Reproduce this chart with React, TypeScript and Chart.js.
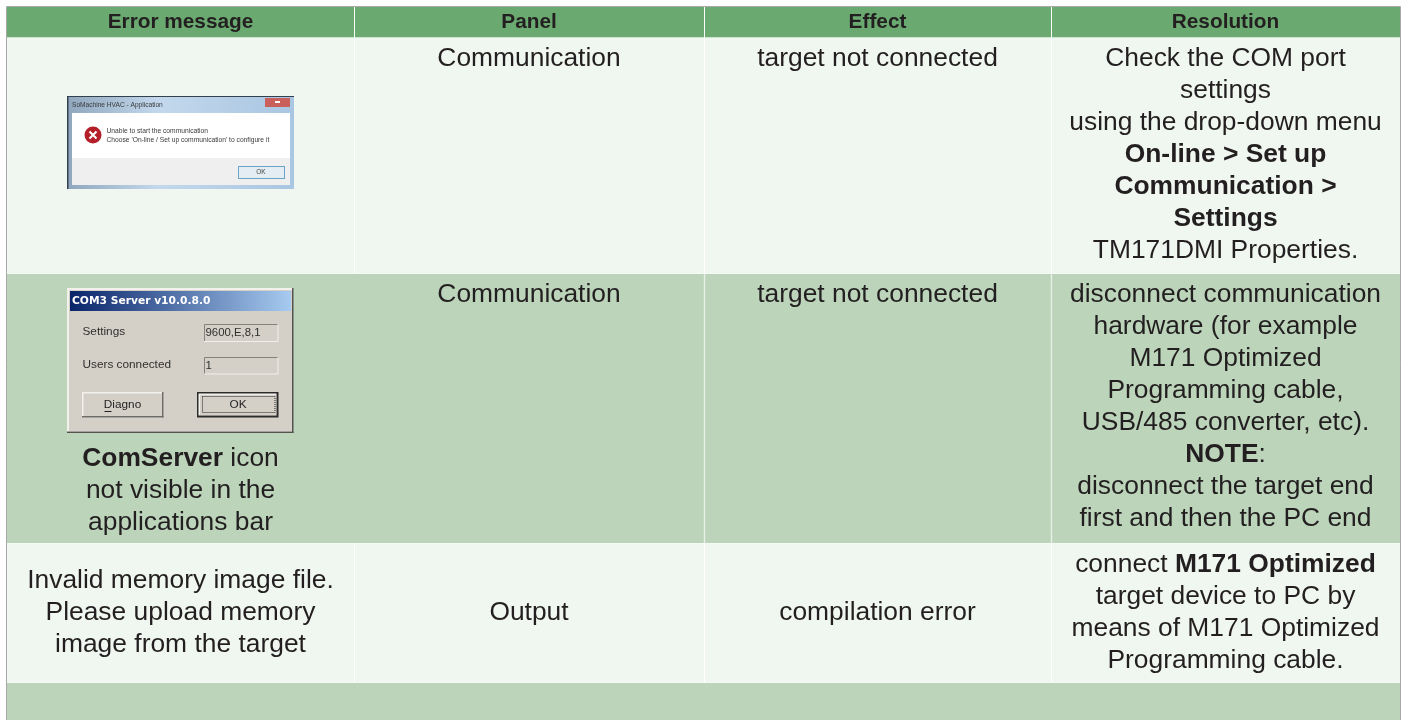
import React, { useEffect, useRef } from "react";
import { Chart, registerables } from "chart.js";

Chart.register(...registerables);

type Seg = [string, boolean];
type Line = Seg[];

const headers = ["Error message", "Panel", "Effect", "Resolution"];
const panels = ["Communication", "Communication", "Output"];
const effects = ["target not connected", "target not connected", "compilation error"];
const errorTexts: Line[][] = [
  [],
  [
    [["ComServer", true], [" icon", false]],
    [["not visible in the", false]],
    [["applications bar", false]],
  ],
  [
    [["Invalid memory image file.", false]],
    [["Please upload memory", false]],
    [["image from the target", false]],
  ],
];
const resolutions: Line[][] = [
  [
    [["Check the COM port", false]],
    [["settings", false]],
    [["using the drop-down menu", false]],
    [["On-line > Set up", true]],
    [["Communication >", true]],
    [["Settings", true]],
    [["TM171DMI Properties.", false]],
  ],
  [
    [["disconnect communication", false]],
    [["hardware (for example", false]],
    [["M171 Optimized", false]],
    [["Programming cable,", false]],
    [["USB/485 converter, etc).", false]],
    [["NOTE", true], [":", false]],
    [["disconnect the target end", false]],
    [["first and then the PC end", false]],
  ],
  [
    [["connect ", false], ["M171 Optimized", true]],
    [["target device to PC by", false]],
    [["means of M171 Optimized", false]],
    [["Programming cable.", false]],
  ],
];

const columnEdges = [7, 354, 704, 1051, 1400];
const rowEdges = [7, 37, 273, 543, 682, 720];
const rowColors = ["#6aaa70", "#f0f7f1", "#bbd4ba", "#f0f7f1", "#bbd4ba"];
const FONT = '"Liberation Sans", Arial, sans-serif';
const INK = "#231f20";
const BODY = 26.4;
const HEAD = 20.8;

function drawLine(ctx: CanvasRenderingContext2D, line: Line, cx: number, y: number, size: number) {
  let total = 0;
  for (const [t, b] of line) {
    ctx.font = `${b ? "bold " : ""}${size}px ${FONT}`;
    total += ctx.measureText(t).width;
  }
  let x = cx - total / 2;
  ctx.textAlign = "left";
  ctx.textBaseline = "middle";
  ctx.fillStyle = INK;
  for (const [t, b] of line) {
    ctx.font = `${b ? "bold " : ""}${size}px ${FONT}`;
    ctx.fillText(t, x, y);
    x += ctx.measureText(t).width;
  }
}

function drawDialogOne(ctx: CanvasRenderingContext2D) {
  ctx.save();
  ctx.filter = "blur(0.6px)";
  const tg = ctx.createLinearGradient(67, 96, 294, 96);
  tg.addColorStop(0, "#8fa6bd");
  tg.addColorStop(0.4, "#c3d8ec");
  tg.addColorStop(1, "#a9c6e2");
  ctx.fillStyle = tg;
  ctx.fillRect(67, 96, 227, 93);
  ctx.fillStyle = "#33414f";
  ctx.fillRect(67, 96, 227, 1);
  ctx.fillRect(67, 96, 1.5, 93);
  ctx.fillStyle = "#ffffff";
  ctx.fillRect(72, 113, 218, 46);
  ctx.fillStyle = "#efefef";
  ctx.fillRect(72, 158, 218, 27);
  ctx.fillStyle = "#c9605c";
  ctx.fillRect(265, 98, 25, 9);
  ctx.fillStyle = "#ffffff";
  ctx.fillRect(275, 101, 5, 2);
  // error icon
  ctx.fillStyle = "#b4202a";
  ctx.beginPath();
  ctx.arc(93, 135, 8.5, 0, Math.PI * 2);
  ctx.fill();
  ctx.strokeStyle = "#ffffff";
  ctx.lineWidth = 2;
  ctx.beginPath();
  ctx.moveTo(89.5, 131.5);
  ctx.lineTo(96.5, 138.5);
  ctx.moveTo(96.5, 131.5);
  ctx.lineTo(89.5, 138.5);
  ctx.stroke();
  // text
  ctx.fillStyle = "#3a3a3a";
  ctx.textAlign = "left";
  ctx.textBaseline = "middle";
  ctx.font = `6.6px ${FONT}`;
  ctx.fillText("SoMachine HVAC - Application", 72, 105);
  ctx.font = `6.7px ${FONT}`;
  ctx.fillText("Unable to start the communication", 106.5, 131);
  ctx.fillText("Choose 'On-line / Set up communication' to configure it", 106.5, 140);
  // OK button
  ctx.fillStyle = "#e4edf3";
  ctx.strokeStyle = "#6aa5c8";
  ctx.lineWidth = 1;
  ctx.fillRect(238, 166, 46, 12);
  ctx.strokeRect(238.5, 166.5, 46, 12);
  ctx.fillStyle = "#444444";
  ctx.textAlign = "center";
  ctx.font = `6.5px ${FONT}`;
  ctx.fillText("OK", 261, 172.5);
  ctx.restore();
}

function field(ctx: CanvasRenderingContext2D, x: number, y: number, w: number, h: number) {
  ctx.fillStyle = "#d4d0c8";
  ctx.fillRect(x, y, w, h);
  ctx.strokeStyle = "#85827b";
  ctx.lineWidth = 1;
  ctx.beginPath();
  ctx.moveTo(x + 0.5, y + h);
  ctx.lineTo(x + 0.5, y + 0.5);
  ctx.lineTo(x + w, y + 0.5);
  ctx.stroke();
  ctx.strokeStyle = "#f2f0ec";
  ctx.beginPath();
  ctx.moveTo(x + w - 0.5, y);
  ctx.lineTo(x + w - 0.5, y + h - 0.5);
  ctx.lineTo(x, y + h - 0.5);
  ctx.stroke();
}

function drawDialogTwo(ctx: CanvasRenderingContext2D) {
  ctx.save();
  ctx.fillStyle = "#f3f1ec";
  ctx.fillRect(67, 288, 226, 145);
  ctx.fillStyle = "#55534f";
  ctx.fillRect(292, 288, 1.5, 145);
  ctx.fillRect(67, 431.5, 226.5, 1.5);
  ctx.fillStyle = "#d4d0c8";
  ctx.fillRect(69, 290, 223, 141);
  const g = ctx.createLinearGradient(70, 0, 291, 0);
  g.addColorStop(0, "#0a246a");
  g.addColorStop(1, "#a6caf0");
  ctx.fillStyle = g;
  ctx.fillRect(70, 291, 221, 20);
  ctx.textAlign = "left";
  ctx.textBaseline = "middle";
  ctx.fillStyle = "#ffffff";
  ctx.font = `bold 10.7px "DejaVu Sans", sans-serif`;
  ctx.fillText("COM3 Server v10.0.8.0", 72, 301.5);
  field(ctx, 204, 324, 74.5, 18);
  field(ctx, 204, 357, 74.5, 17.5);
  ctx.fillStyle = "#2f2f2c";
  ctx.font = `11.8px ${FONT}`;
  ctx.fillText("Settings", 82.5, 332);
  ctx.fillText("Users connected", 82.5, 365);
  ctx.font = `11.4px ${FONT}`;
  ctx.fillText("9600,E,8,1", 205.5, 333);
  ctx.fillText("1", 205.5, 366);
  // Diagno
  ctx.fillStyle = "#f3f1ec";
  ctx.fillRect(82, 392, 81.5, 25.5);
  ctx.fillStyle = "#6d6b66";
  ctx.fillRect(162, 392, 1.5, 25.5);
  ctx.fillRect(82, 416, 81.5, 1.5);
  ctx.fillStyle = "#d4d0c8";
  ctx.fillRect(83.5, 393.5, 78.5, 22.5);
  ctx.fillStyle = "#1f1f1f";
  ctx.textAlign = "center";
  ctx.font = `11.8px ${FONT}`;
  ctx.fillText("Diagno", 122.5, 404.5);
  ctx.fillRect(104.5, 411, 7, 1);
  // OK
  ctx.fillStyle = "#2b2b2b";
  ctx.fillRect(197, 392, 81.5, 25.5);
  ctx.fillStyle = "#f3f1ec";
  ctx.fillRect(198.5, 393.5, 78, 22);
  ctx.fillStyle = "#d4d0c8";
  ctx.fillRect(200, 395, 76, 20);
  ctx.strokeStyle = "#222222";
  ctx.lineWidth = 1;
  ctx.setLineDash([1, 1]);
  ctx.strokeRect(202.5, 396.5, 72.5, 16);
  ctx.setLineDash([]);
  ctx.fillStyle = "#1f1f1f";
  ctx.fillText("OK", 238, 404.5);
  ctx.restore();
}

const tablePlugin = {
  id: "tableText",
  afterDatasetsDraw(chart: any) {
    const ctx: CanvasRenderingContext2D = chart.ctx;
    const xs = chart.scales.x;
    const ys = chart.scales.y;
    const px = (v: number) => xs.getPixelForValue(v);
    const py = (v: number) => ys.getPixelForValue(v);
    const mid = (c: number) => (px(columnEdges[c]) + px(columnEdges[c + 1])) / 2;

    // outer frame
    ctx.save();
    ctx.strokeStyle = "#a8a8a8";
    ctx.lineWidth = 1;
    ctx.beginPath();
    ctx.moveTo(6.5, 720);
    ctx.lineTo(6.5, 6.5);
    ctx.lineTo(1400.5, 6.5);
    ctx.lineTo(1400.5, 720);
    ctx.stroke();

    const vSep = (c: number, r: number, color: string, w: number) => {
      ctx.strokeStyle = color;
      ctx.lineWidth = w;
      ctx.beginPath();
      ctx.moveTo(px(columnEdges[c]) + 0.5, py(rowEdges[r]));
      ctx.lineTo(px(columnEdges[c]) + 0.5, py(rowEdges[r + 1]));
      ctx.stroke();
    };
    // header and light rows carry all separators
    [0, 1, 3].forEach((r) => [1, 2, 3].forEach((c) => vSep(c, r, "#ffffff", 1)));
    // the shaded row only carries the two right-hand separators
    [2, 3].forEach((c) => vSep(c, 2, "#e8f0e8", 1.4));

    ctx.strokeStyle = "#f6faf6";
    ctx.lineWidth = 1;
    rowEdges.slice(2, 5).forEach((r) => {
      ctx.beginPath();
      ctx.moveTo(px(7), py(r) + 0.5);
      ctx.lineTo(px(1400), py(r) + 0.5);
      ctx.stroke();
    });
    ctx.restore();

    headers.forEach((h, c) => drawLine(ctx, [[h, true]], mid(c), py(22.5), HEAD));

    const LH = 32;
    const rowTop = [59, 295, 581];
    panels.forEach((t, r) => {
      const y = r === 2 ? 613 : rowTop[r];
      drawLine(ctx, [[t, false]], mid(1), y, BODY);
      drawLine(ctx, [[effects[r], false]], mid(2), y, BODY);
    });
    const errTop = [0, 458.5, 580.5];
    errorTexts.forEach((lines, r) =>
      lines.forEach((l, i) => drawLine(ctx, l, mid(0), errTop[r] + i * LH, BODY))
    );
    const resTop = [59, 295, 565];
    resolutions.forEach((lines, r) =>
      lines.forEach((l, i) => drawLine(ctx, l, mid(3), resTop[r] + i * LH, BODY))
    );

    drawDialogOne(ctx);
    drawDialogTwo(ctx);
  },
};

export default function App() {
  const ref = useRef<HTMLCanvasElement>(null);
  useEffect(() => {
    const datasets = rowColors.map((color, r) => ({
      label: r === 0 ? "header" : `row ${r}`,
      data: [
        {
          x: [columnEdges[0], columnEdges[4]],
          y: (rowEdges[r] + rowEdges[r + 1]) / 2,
        },
      ],
      backgroundColor: color,
      barThickness: rowEdges[r + 1] - rowEdges[r],
      grouped: false,
      borderWidth: 0,
    }));
    const chart = new Chart(ref.current!, {
      type: "bar",
      data: { datasets: datasets as any },
      plugins: [tablePlugin],
      options: {
        indexAxis: "y",
        animation: false,
        responsive: false,
        layout: { padding: 0 },
        plugins: { legend: { display: false }, tooltip: { enabled: false } },
        scales: {
          x: { type: "linear", min: 0, max: 1406, display: false },
          y: { type: "linear", min: 0, max: 720, reverse: true, display: false, offset: false },
        },
      } as any,
    });
    return () => chart.destroy();
  }, []);
  return (
    <canvas
      ref={ref}
      width={1406}
      height={720}
      style={{ position: "absolute", left: 0, top: 0, width: 1406, height: 720, display: "block" }}
    />
  );
}
